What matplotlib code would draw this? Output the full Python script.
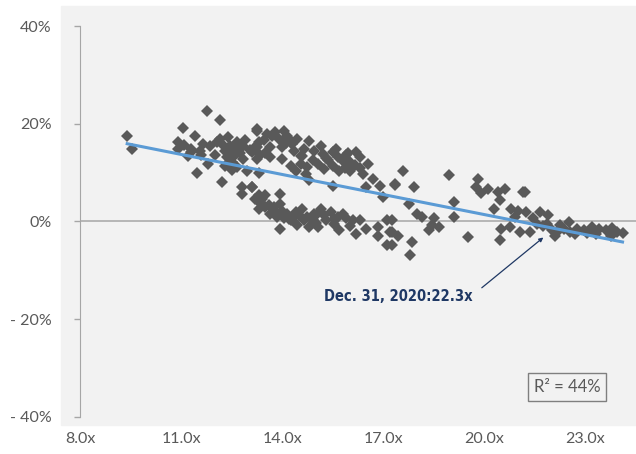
import numpy as np
import matplotlib.pyplot as plt
from matplotlib.patches import Rectangle

""" Data (read off the reference) """
# forward P/E multiple (x) and subsequent return in % (y)
pe_multiple = [
    9.4, 9.55,
    11.76, 12.16, 11.05, 11.42, 10.91, 10.9, 11.2, 11.47, 12.2, 11.8, 11.86, 12.06,
    12.4, 12.3, 12.45, 12.65, 12.85, 12.6, 12.85, 12.3, 12.65, 12.95, 12.8, 12.8,
    13.1, 13.25, 13.3, 13.25, 13.3, 13.3, 13.3, 11.56, 12.0, 11.3, 11.65, 12.15,
    12.55, 12.75, 13.05, 12.5,
    11.1, 11.3, 11.6, 12.2, 12.35, 12.7, 12.9, 13.1, 12.5,
    13.25, 13.55, 13.8, 14.05, 14.15, 13.9, 14.25, 14.45, 14.8, 15.15, 15.5, 16.2,
    16.3, 13.25, 13.65, 14.0, 14.35, 14.65, 14.95, 15.2, 15.65, 15.8, 16.0, 13.35,
    13.65, 14.0, 14.25, 14.55, 14.75, 15.05, 15.25, 15.5, 15.7, 16.0, 16.4, 16.7,
    16.9, 17.0, 16.5, 14.8, 15.5, 13.1, 17.35, 13.2, 14.55, 15.35, 15.9, 14.1,
    13.5, 15.85, 16.55,
    13.45, 13.7, 14.3, 14.6, 14.9, 15.3, 15.6, 15.95, 16.15, 16.3, 14.4, 14.7,
    13.3, 13.5, 13.95, 13.35, 13.5, 13.95, 13.65, 13.85, 14.15, 14.35, 14.6, 14.65,
    14.9, 15.15, 15.45, 15.3, 15.65, 15.9, 16.1, 13.95, 15.05, 15.7, 16.2, 14.45,
    14.8, 17.1, 16.85, 17.2, 16.85, 17.1, 17.45, 14.0, 14.4, 15.0, 15.55, 13.2,
    13.75, 14.2, 14.95,
    13.4, 13.6, 13.75, 14.05, 14.25, 14.5, 14.75, 15.0, 15.25, 15.55, 15.8, 16.0,
    16.3, 16.5,
    17.6, 17.35, 17.9, 17.75, 18.0, 18.15, 18.5, 18.45, 18.35, 18.65, 17.25, 17.25,
    17.25, 17.85, 17.8, 18.95, 19.1, 19.1, 19.5, 19.8, 19.75, 20.1, 20.4, 20.6,
    20.45, 20.3, 20.8, 21.0, 21.15, 21.25, 21.65, 21.45, 21.55, 20.5, 20.45, 20.75,
    21.05, 21.35, 21.85, 22.1, 22.25, 22.5, 22.55, 22.75, 22.95, 23.2, 23.4, 23.6,
    23.95, 22.35, 21.2, 22.0, 22.7, 23.05, 23.75, 24.1, 21.75,
    19.9, 20.9, 21.9, 22.2, 23.3, 23.8,
]
fwd_return = [
    17.5, 14.9,
    22.6, 20.8, 19.1, 17.5, 16.2, 14.9, 13.3, 9.8, 8.0, 11.8, 15.5, 16.2,
    17.2, 14.5, 15.5, 16.2, 15.5, 13.5, 12.8, 11.4, 11.1, 10.4, 7.0, 5.7,
    7.0, 19.0, 16.2, 12.8, 9.8, 3.9, 2.6, 14.5, 13.5, 14.3, 15.8, 16.8,
    14.2, 13.9, 14.6, 12.2,
    15.6, 14.8, 13.6, 15.9, 13.2, 14.8, 16.6, 14.2, 10.6,
    18.6, 17.9, 18.2, 18.6, 17.5, 16.9, 16.5, 16.9, 16.5, 15.5, 14.1, 14.1,
    13.1, 15.2, 15.2, 15.2, 14.5, 14.8, 14.5, 13.8, 13.1, 12.4, 12.1, 13.5,
    13.1, 12.8, 11.4, 11.8, 11.1, 11.8, 10.8, 11.4, 10.4, 10.4, 9.7, 8.7,
    7.3, 5.0, 7.0, 8.4, 7.3, 7.0, 7.7, 15.2, 13.3, 12.6, 13.6, 16.1,
    14.0, 11.0, 11.8,
    16.6, 17.4, 15.9, 13.3, 12.6, 12.9, 14.8, 13.9, 11.6, 10.9, 10.3, 9.6,
    5.3, 5.3, 5.7, 3.9, 2.9, 3.6, 1.6, 0.9, 1.6, 0.9, 2.6, 0.2,
    0.2, 2.6, 1.9, 0.2, 0.9, 0.6, 0.2, -1.5, -1.2, -1.8, -2.5, -0.8,
    -1.2, 0.2, -1.2, -2.2, -2.9, -4.9, -2.9, 2.2, 1.9, 1.2, 0.4, 4.6,
    3.0, 0.5, 1.5,
    4.6, 3.3, 2.4, 0.6, 0.2, 1.4, 0.8, -0.3, 1.2, -0.6, 1.6, -0.9,
    0.3, -1.6,
    10.4, 7.5, 7.0, 3.6, 1.6, 0.9, 0.6, -0.8, -1.8, -1.2, 0.2, -2.2,
    -4.9, -4.2, -6.9, 9.4, 3.9, 0.9, -3.2, 8.7, 7.0, 6.7, 6.0, 6.7,
    4.3, 2.6, 2.6, 2.2, 6.0, 1.9, 1.9, 0.6, -0.5, -1.5, -3.9, -1.2,
    -2.2, -2.2, -0.5, -2.9, -0.8, -0.1, -2.2, -1.5, -1.8, -1.2, -1.5, -1.8,
    -2.2, -1.5, 6.1, -1.8, -2.6, -2.4, -2.9, -2.3, -1.0,
    5.9, 0.8, 1.2, -2.0, -2.6, -1.3,
]
x_ticks = [8, 11, 14, 17, 20, 23]
x_labels = ["8.0x", "11.0x", "14.0x", "17.0x", "20.0x", "23.0x"]
y_ticks = [-40, -20, 0, 20, 40]
y_labels = ["- 40%", "- 20%", "0%", "20%", "40%"]
note_text = "Dec. 31, 2020:22.3x"
note_point = (21.75, -3.3)
r2_text = "R² = 44%"

""" Plotting """
plt.rcParams['font.family'] = ['Lato', 'DejaVu Sans']
grey_txt = '#595959'

fig = plt.figure(figsize=(6.36, 4.54), dpi=100)
# light grey plot area that sits behind the axes
fig.patches.append(Rectangle((61/636, 1-425/454), 1-61/636, (425-6)/454,
                             transform=fig.transFigure, color='#f2f2f2', zorder=-10))
ax = fig.add_axes([80/636, 1-416.7/454, 1-80/636, (416.7-26)/454])
ax.set_facecolor('none')
ax.set_zorder(5)

x = np.array(pe_multiple)
y = np.array(fwd_return)
ax.axhline(0, color='#a6a6a6', lw=1.1, zorder=1)
ax.plot(x, y, linestyle='none', marker='D', ms=6.0, color='#595959', mew=0, zorder=2)

# linear trend
k, d = np.polyfit(x, y, 1)
xs = np.array([x.min(), x.max()])
ax.plot(xs, k*xs + d, color='#5b9bd5', lw=2.2, zorder=3)

ax.set_xlim(8, 24.5)
ax.set_ylim(-40, 40)
ax.set_xticks(x_ticks)
ax.set_xticklabels(x_labels)
ax.set_yticks(y_ticks)
ax.set_yticklabels(y_labels)
ax.tick_params(axis='x', length=0, pad=11, labelsize=11.5, labelcolor=grey_txt)
ax.tick_params(axis='y', length=4.5, width=1, color='#a6a6a6', pad=16,
               labelsize=11.5, labelcolor=grey_txt)
for s in ['top', 'right', 'bottom']:
    ax.spines[s].set_visible(False)
ax.spines['left'].set_color('#a6a6a6')

ax.annotate(note_text, xy=note_point, xytext=(19.65, -15.3),
            ha='right', va='center', fontsize=10.5, fontweight='bold', color='#1f3864',
            family='DejaVu Sans', fontstretch='condensed',
            arrowprops=dict(arrowstyle='-|>', color='#1f3864', lw=0.9,
                            mutation_scale=6, shrinkA=6, shrinkB=0,
                            relpos=(1.0, 0.55)))

ax.text(22.46, -33.9, r2_text, ha='center', va='center', fontsize=12, color=grey_txt,
        bbox=dict(boxstyle='square,pad=0.35', fc='#f2f2f2', ec='#7f7f7f', lw=1))

plt.savefig('out.png', dpi=100)
